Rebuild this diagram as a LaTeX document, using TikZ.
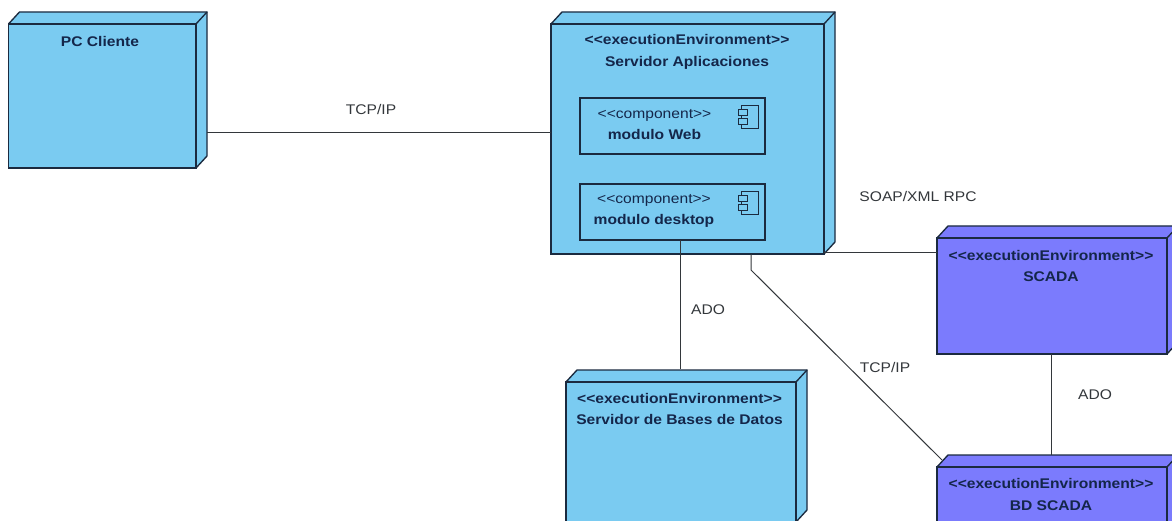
\documentclass[tikz,border=0pt]{standalone}
\usepackage{fontspec}
\setmainfont[FakeStretch=1.115]{Liberation Sans}
\definecolor{nodeblue}{HTML}{7ACBF1}
\definecolor{nodepurple}{HTML}{7B7BFD}
\definecolor{edgeink}{HTML}{1B2A3F}
\definecolor{labelink}{HTML}{14264A}
\definecolor{connink}{HTML}{33373B}
\tikzset{
  x=1pt,y=-1pt,
  every node/.style={inner sep=0pt,outer sep=0pt},
  face/.style={draw=edgeink,line width=1.35pt,line join=miter},
  front/.style={face,rectangle,anchor=north west},
  comp/.style={draw=edgeink,line width=1.35pt,fill=nodeblue,rectangle,anchor=north west,minimum width=185pt,minimum height=56pt},
  icon/.style={draw=edgeink,line width=.9pt,fill=nodeblue},
  conn/.style={draw=connink,line width=1pt},
  title/.style={align=center,text=labelink,font=\fontsize{14}{21.3}\selectfont\bfseries},
  compname/.style={align=center,text=labelink,font=\fontsize{14}{21}\selectfont},
  edgelabel/.style={text=connink,font=\fontsize{14}{16}\selectfont},
}
% name, fill, x, y, width, height, depth
\newcommand{\deployment}[7]{%
  \fill[#2] (#3,#4) -- ++(#7,-#7-1) -- ++(#5,0) -- ++(0,#6) -- ++(-#7,#7+1) -- cycle;
  \draw[face] (#3,#4) -- ++(#7,-#7-1) -- ++(#5,0) -- ++(0,#6) -- ++(-#7,#7+1);
  \draw[face] (#3+#5,#4) -- ++(#7,-#7-1);
  \node[front,fill=#2,minimum width=#5 pt,minimum height=#6 pt] (#1) at (#3,#4) {};
}
\newcommand{\compicon}[2]{%
  \draw[icon] (#1+3,#2) rectangle ++(17,23);
  \draw[icon] (#1,#2+4) rectangle ++(9,6);
  \draw[icon] (#1,#2+13) rectangle ++(9,6);
}
\begin{document}
\begin{tikzpicture}
\useasboundingbox (0,0) rectangle (1172,521);
\fill[white] (0,0) rectangle (1172,521);
\clip (0,0) rectangle (1172,521);

% free ends on the side faces of the nodes
\coordinate (pcside) at (207,133);
\coordinate (srvleft) at (551,133);
\coordinate (srvside) at (824,253);
\coordinate (scadaleft) at (937,253);
\coordinate (srvbottom) at (751,254);
\coordinate (srvbend) at (751,270);
\coordinate (bdcorner) at (942,460);
\coordinate (dbtop) at (680,369);
\coordinate (scadabottom) at (1051,354);
\coordinate (bdtop) at (1051,455);

\deployment{pc}{nodeblue}{8.5}{24}{187.5}{144}{11}
\deployment{srv}{nodeblue}{551}{24}{273}{230}{11}
\deployment{db}{nodeblue}{566}{382}{230}{140}{11}
\deployment{scada}{nodepurple}{937}{238}{230}{116}{11}
\deployment{bdscada}{nodepurple}{937}{467}{230}{116}{11}

\node[comp] (web) at (580,98) {};
\node[comp] (desk) at (580,184) {};
\compicon{738}{105}
\compicon{738}{191}

\draw[conn] (pcside) -- (srvleft);
\draw[conn] (srvside) -- (scadaleft);
\draw[conn] (desk.south -| dbtop) -- (dbtop);
\draw[conn] (srvbottom) -- (srvbend) -- (bdcorner);
\draw[conn] (scadabottom) -- (bdtop);

\node[title] (pclabel) at (100,41) {PC Cliente};
\node[title] (srvlabel) at (687,52) {<{}<executionEnvironment>{}>\\Servidor Aplicaciones};
\node[compname] (weblabel) at (654.5,124.5) {<{}<component>{}>\\\bfseries modulo Web};
\node[compname] (desklabel) at (654,210.5) {<{}<component>{}>\\\bfseries modulo desktop};
\node[title] (dblabel) at (679.5,409) {<{}<executionEnvironment>{}>\\Servidor de Bases de Datos};
\node[title] (scadalabel) at (1051,266) {<{}<executionEnvironment>{}>\\SCADA};
\node[title] (bdlabel) at (1051,494.5) {<{}<executionEnvironment>{}>\\BD SCADA};

\node[edgelabel] (tcp1) at (371,109) {TCP/IP};
\node[edgelabel] (soap) at (918,196) {SOAP/XML RPC};
\node[edgelabel] (ado1) at (708,310) {ADO};
\node[edgelabel] (tcp2) at (885,367) {TCP/IP};
\node[edgelabel] (ado2) at (1095,395) {ADO};
\end{tikzpicture}
\end{document}
